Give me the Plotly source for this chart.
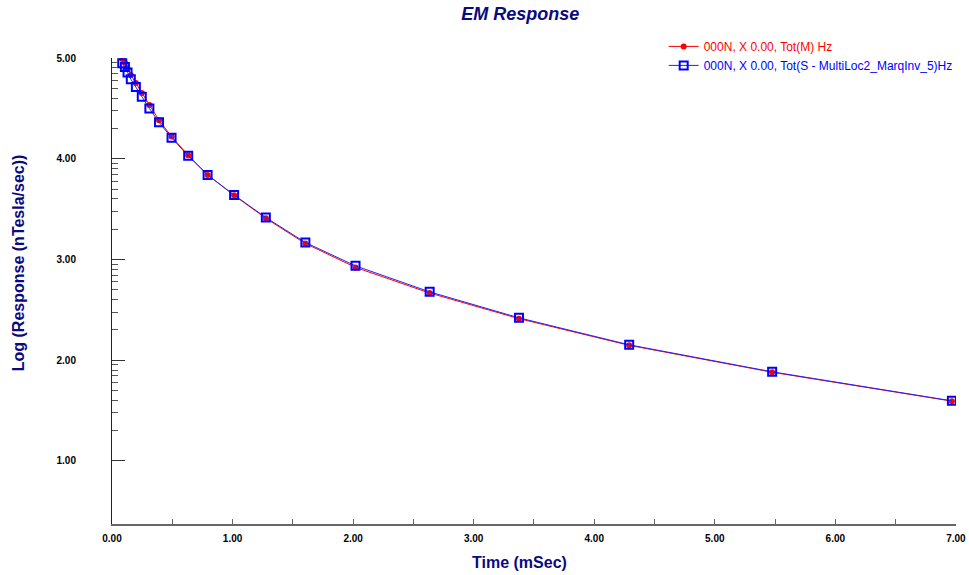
import math
import plotly.graph_objects as go

# ---- data ----
time_ms = [0.085, 0.107, 0.129, 0.156, 0.198, 0.247, 0.310, 0.390, 0.494, 0.632,
           0.793, 1.013, 1.276, 1.604, 2.020, 2.635, 3.376, 4.290, 5.476, 6.967]
resp_measured = [4.990, 4.955, 4.900, 4.832, 4.752, 4.654, 4.535, 4.384, 4.221, 4.035,
                 3.840, 3.637, 3.409, 3.159, 2.922, 2.667, 2.413, 2.148, 1.881, 1.594]
resp_synthetic = [4.950, 4.911, 4.857, 4.791, 4.712, 4.616, 4.500, 4.364, 4.209, 4.030,
                  3.840, 3.640, 3.417, 3.169, 2.937, 2.679, 2.421, 2.153, 1.885, 1.597]

name_measured = "000N, X 0.00, Tot(M) Hz"
name_synthetic = "000N, X 0.00, Tot(S - MultiLoc2_MarqInv_5)Hz"
y_major = [1, 2, 3, 4, 5]
y_minor = [k + math.log10(m) for k in range(1, 5) for m in range(2, 10)]

NAVY = "#0a0a80"
TICKFONT = dict(size=10, color="black", family="Arial, Liberation Sans, sans-serif", weight="bold")

W, H = 969, 575
ML, MR, MT, MB = 112, 11, 58, 51

fig = go.Figure()
fig.add_trace(go.Scatter(
    x=time_ms, y=resp_measured, mode="lines+markers",
    name=f"<span style='color:#ff0000'>{name_measured}</span>",
    line=dict(color="#ff0000", width=1),
    marker=dict(symbol="circle", size=6, color="#ff0000"),
))
fig.add_trace(go.Scatter(
    x=time_ms, y=resp_synthetic, mode="lines+markers",
    name=f"<span style='color:#0000ff'>{name_synthetic}</span>",
    line=dict(color="#2020ff", width=1),
    marker=dict(symbol="square-open", size=8, color="#0000ff", line=dict(width=2, color="#0000ff")),
))

pw, ph = W - ML - MR, H - MT - MB

fig.update_layout(
    width=W, height=H,
    margin=dict(l=ML, r=MR, t=MT, b=MB),
    paper_bgcolor="white", plot_bgcolor="white",
    font=dict(family="Arial, Liberation Sans, sans-serif"),
    title=dict(text="<b><i>EM Response</i></b>", x=0.537, xanchor="center",
               y=0.976, yanchor="middle", font=dict(size=18, color=NAVY)),
    showlegend=True,
    legend=dict(x=(665 - ML) / pw, y=1.056, xanchor="left", yanchor="top",
                font=dict(size=12), bgcolor="rgba(0,0,0,0)", itemwidth=30,
                tracegroupgap=0),
    xaxis=dict(range=[0, 7.001], tickmode="linear", tick0=0, dtick=1, tickformat=".2f",
               ticks="inside", ticklen=5, tickcolor="#666", tickwidth=1, automargin=False,
               showline=True, linecolor="#666", linewidth=2, showgrid=False, zeroline=False,
               tickfont=TICKFONT, ticklabelstandoff=4, ticklabeloverflow="allow",
               minor=dict(dtick=0.5, tick0=0, ticks="inside", ticklen=5, tickcolor="#666")),
    yaxis=dict(range=[0.374, 5.001], tickmode="array", tickvals=y_major, tickformat=".2f",
               ticks="inside", ticklen=13, tickcolor="#333", tickwidth=1, automargin=False,
               showline=True, linecolor="#222", linewidth=1, showgrid=False, zeroline=False,
               tickfont=TICKFONT, ticklabelstandoff=33, ticklabeloverflow="allow",
               minor=dict(tickmode="array", tickvals=y_minor, ticks="inside", ticklen=6,
                          tickcolor="#555")),
)
# axis titles placed as annotations at positions measured on the reference
fig.add_annotation(text="<b>Time (mSec)</b>", x=(520 - ML) / pw, xref="paper",
                   y=-(562 - 524) / ph, yref="paper", xanchor="center", yanchor="middle",
                   showarrow=False, font=dict(size=16, color=NAVY))
fig.add_annotation(text="<b>Log (Response (nTesla/sec))</b>", textangle=-90,
                   x=-(ML - 18) / pw, xref="paper", y=(524 - 263) / ph, yref="paper",
                   xanchor="center", yanchor="middle", showarrow=False,
                   font=dict(size=16, color=NAVY))

fig.write_html("out.html")
